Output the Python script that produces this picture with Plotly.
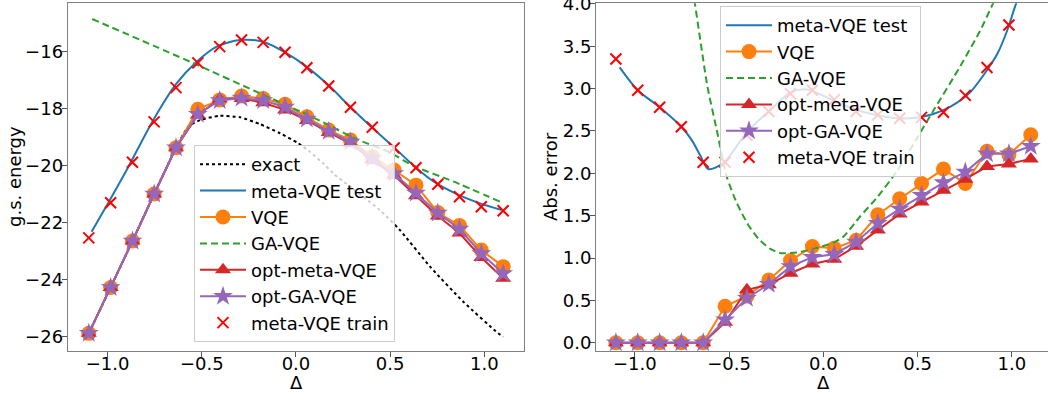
import plotly.graph_objects as go

# ---------------- data ----------------
delta = [-1.1, -0.984, -0.868, -0.753, -0.637, -0.521, -0.405, -0.289, -0.174, -0.058,
         0.058, 0.174, 0.289, 0.405, 0.521, 0.637, 0.753, 0.868, 0.984, 1.1]

# left panel: ground-state energy
vqe_energy = [-25.88, -24.27, -22.64, -20.99, -19.37, -18.02, -17.69, -17.55, -17.64, -17.84,
              -18.28, -18.75, -19.10, -19.68, -20.15, -20.68, -21.64, -22.10, -22.96, -23.54]
opt_meta_energy = [-25.88, -24.27, -22.64, -20.99, -19.37, -18.22, -17.66, -17.64, -17.79, -18.04,
                   -18.41, -18.83, -19.22, -19.80, -20.33, -21.05, -21.76, -22.36, -23.22, -23.95]
opt_ga_energy = [-25.88, -24.27, -22.64, -20.99, -19.37, -18.19, -17.71, -17.62, -17.71, -17.94,
                 -18.36, -18.79, -19.17, -19.74, -20.27, -20.96, -21.66, -22.22, -23.08, -23.78]
train_energy = [-22.53, -21.30, -19.88, -18.46, -17.26, -16.39, -15.82, -15.59, -15.67, -16.02,
                -16.56, -17.20, -17.95, -18.65, -19.38, -20.07, -20.65, -21.09, -21.44, -21.58]

test_x_left = [-1.085, -0.988, -0.899, -0.758, -0.634, -0.527, -0.421, -0.297, -0.174, -0.049,
               0.057, 0.172, 0.287, 0.402, 0.517, 0.632, 0.747, 0.866, 0.977, 1.092]
test_energy = [-22.32, -21.20, -20.15, -18.40, -17.11, -16.35, -15.82, -15.59, -15.65, -16.06,
               -16.53, -17.17, -17.93, -18.65, -19.33, -20.04, -20.62, -21.03, -21.32, -21.55]

exact_x = [-1.1, -0.984, -0.868, -0.753, -0.637, -0.572, -0.51, -0.404, -0.297, -0.191,
           -0.085, 0.012, 0.074, 0.145, 0.198, 0.446, 0.552, 0.712, 0.888, 1.074, 1.1]
exact_energy = [-25.88, -24.27, -22.64, -20.99, -19.37, -18.63, -18.40, -18.25, -18.30, -18.54,
                -18.86, -19.21, -19.51, -19.92, -20.27, -21.56, -22.26, -23.54, -24.77, -25.88, -26.0]

ga_x_left = [-1.082, -0.545, -0.191, 0.021, 0.145, 0.322, 0.489, 0.623, 0.835, 1.083]
ga_energy = [-14.85, -16.40, -17.46, -18.09, -18.48, -19.07, -19.50, -20.00, -20.55, -21.26]

# right panel: absolute error
vqe_err = [0, 0, 0, 0, 0, 0.43, 0.55, 0.74, 0.97, 1.135,
           1.115, 1.21, 1.51, 1.70, 1.88, 2.05, 1.88, 2.26, 2.22, 2.455]
opt_meta_err = [0, 0, 0, 0, 0, 0.24, 0.625, 0.685, 0.82, 0.93,
                0.985, 1.14, 1.33, 1.52, 1.66, 1.80, 1.93, 2.08, 2.11, 2.17]
opt_ga_err = [0, 0, 0, 0, 0, 0.27, 0.525, 0.69, 0.90, 1.01,
              1.045, 1.19, 1.41, 1.58, 1.74, 1.89, 2.015, 2.23, 2.23, 2.32]
train_err = [3.35, 2.98, 2.78, 2.55, 2.13, 2.13, 2.45, 2.73, 2.94, 2.98,
             2.87, 2.73, 2.69, 2.65, 2.66, 2.72, 2.92, 3.25, 3.75, 4.42]

test_x_right = [-1.08, -0.984, -0.868, -0.753, -0.7, -0.65, -0.61, -0.53, -0.4, -0.29, -0.177,
                -0.088, 0.045, 0.159, 0.274, 0.389, 0.5, 0.583, 0.677, 0.776, 0.875, 0.925,
                0.974, 1.023, 1.1]
test_err = [3.25, 2.98, 2.78, 2.55, 2.40, 2.20, 2.05, 2.12, 2.50, 2.73, 2.95,
            2.99, 2.87, 2.76, 2.69, 2.65, 2.66, 2.70, 2.79, 2.95, 3.24, 3.42,
            3.68, 4.01, 4.45]

ga_x_right = [-1.085, -0.95, -0.8, -0.68, -0.615, -0.565, -0.512, -0.459, -0.398, -0.345,
              -0.283, -0.230, -0.141, -0.017, 0.053, 0.106, 0.195, 0.283, 0.389, 0.530,
              0.592, 0.725, 0.831, 0.901, 1.0, 1.1]
ga_err = [11.0, 8.2, 5.7, 3.99, 3.03, 2.51, 1.96, 1.65, 1.39, 1.23,
          1.11, 1.06, 1.065, 1.13, 1.18, 1.25, 1.49, 1.71, 2.02, 2.54,
          2.77, 3.26, 3.68, 4.01, 4.45, 4.72]

# ---------------- style ----------------
C_BLUE, C_ORANGE, C_GREEN, C_RED, C_PURPLE = "#1f77b4", "#ff7f0e", "#2ca02c", "#d62728", "#9467bd"
FONT = "DejaVu Sans"
W, H = 1048, 399


def fx(px):
    return px / W


def fy(py):
    return 1 - py / H


fig = go.Figure()


def add_panel(xa, ya, leg, show_exact):
    if show_exact:
        fig.add_trace(go.Scatter(x=exact_x, y=exact_energy, mode="lines", name="exact",
                                 line=dict(color="black", width=2, dash="dot", shape="spline", smoothing=0.6),
                                 xaxis=xa, yaxis=ya, legend=leg))
    tx, ty = (test_x_left, test_energy) if show_exact else (test_x_right, test_err)
    fig.add_trace(go.Scatter(x=tx, y=ty, mode="lines", name="meta-VQE test",
                             line=dict(color=C_BLUE, width=2, shape="spline", smoothing=0.8),
                             xaxis=xa, yaxis=ya, legend=leg))
    fig.add_trace(go.Scatter(x=delta, y=vqe_energy if show_exact else vqe_err, mode="lines+markers", name="VQE",
                             line=dict(color=C_ORANGE, width=2),
                             marker=dict(symbol="circle", size=15, color=C_ORANGE, line=dict(width=0)),
                             xaxis=xa, yaxis=ya, legend=leg))
    gx, gy = (ga_x_left, ga_energy) if show_exact else (ga_x_right, ga_err)
    fig.add_trace(go.Scatter(x=gx, y=gy, mode="lines", name="GA-VQE",
                             line=dict(color=C_GREEN, width=2, dash="7px,4px", shape="spline", smoothing=0.6),
                             xaxis=xa, yaxis=ya, legend=leg))
    fig.add_trace(go.Scatter(x=delta, y=opt_meta_energy if show_exact else opt_meta_err, mode="lines+markers",
                             name="opt-meta-VQE", line=dict(color=C_RED, width=2),
                             marker=dict(symbol="triangle-up", size=14, color=C_RED, line=dict(width=0)),
                             xaxis=xa, yaxis=ya, legend=leg))
    fig.add_trace(go.Scatter(x=delta, y=opt_ga_energy if show_exact else opt_ga_err, mode="lines+markers",
                             name="opt-GA-VQE", line=dict(color=C_PURPLE, width=2),
                             marker=dict(symbol="star", size=15, color=C_PURPLE, line=dict(width=0)),
                             xaxis=xa, yaxis=ya, legend=leg))
    fig.add_trace(go.Scatter(x=delta, y=train_energy if show_exact else train_err, mode="markers",
                             name="meta-VQE train",
                             marker=dict(symbol="x-thin", size=11, color="red", line=dict(width=2, color="red")),
                             xaxis=xa, yaxis=ya, legend=leg))


add_panel("x", "y", "legend", True)
add_panel("x2", "y2", "legend2", False)

y_dom = [fy(351), fy(3.3)]
axis_common = dict(showline=True, linecolor="#808080", linewidth=1, ticks="outside", ticklen=5,
                   tickcolor="#555", tickwidth=1, showgrid=False, zeroline=False,
                   automargin=False, ticklabeloverflow="allow",
                   tickfont=dict(family=FONT, size=18, color="black"))

fig.update_layout(
    template="none",
    width=W, height=H, margin=dict(l=0, r=0, t=0, b=0, autoexpand=False),
    paper_bgcolor="white", plot_bgcolor="white",
    font=dict(family=FONT, size=18, color="black"),
    xaxis=dict(domain=[fx(67.7), fx(523.5)], range=[-1.212, 1.208], dtick=0.5, tick0=0,
               tickformat=".1f", mirror=True, anchor="y", ticklabelstandoff=-9, **axis_common),
    yaxis=dict(domain=y_dom, range=[-26.50, -14.30], dtick=2, tick0=0, mirror=True,
               anchor="x", ticklabelstandoff=-5, **axis_common),
    xaxis2=dict(domain=[fx(596), 1.0], range=[-1.2054, 1.1914], dtick=0.5, tick0=0,
                tickformat=".1f", mirror=True, anchor="y2", ticklabelstandoff=-9, **axis_common),
    yaxis2=dict(domain=y_dom, range=[-0.098, 4.007], dtick=0.5, tick0=0, tickformat=".1f",
                mirror=False, anchor="x2", ticklabelstandoff=-5, **axis_common),
    legend=dict(x=fx(194), y=fy(145), xanchor="left", yanchor="top",
                bgcolor="rgba(255,255,255,0.8)", bordercolor="#cccccc", borderwidth=1,
                font=dict(family=FONT, size=18, color="black"), itemwidth=46,
                tracegroupgap=0),
    legend2=dict(x=fx(720), y=fy(6), xanchor="left", yanchor="top",
                 bgcolor="rgba(255,255,255,0.8)", bordercolor="#cccccc", borderwidth=1,
                 font=dict(family=FONT, size=18, color="black"), itemwidth=46,
                 tracegroupgap=0),
    showlegend=True,
)

annots = [
    dict(text="g.s. energy", x=fx(15), y=fy(177), textangle=-90),
    dict(text="Δ", x=fx(296), y=fy(382), textangle=0),
    dict(text="Abs. error", x=fx(551), y=fy(177), textangle=-90),
    dict(text="Δ", x=fx(823), y=fy(382), textangle=0),
]
for a in annots:
    fig.add_annotation(xref="paper", yref="paper", xanchor="center", yanchor="middle",
                       showarrow=False, font=dict(family=FONT, size=18, color="black"), **a)

fig.write_html("out.html", config={"displayModeBar": False},
               post_script="document.body.style.margin='0px';")
